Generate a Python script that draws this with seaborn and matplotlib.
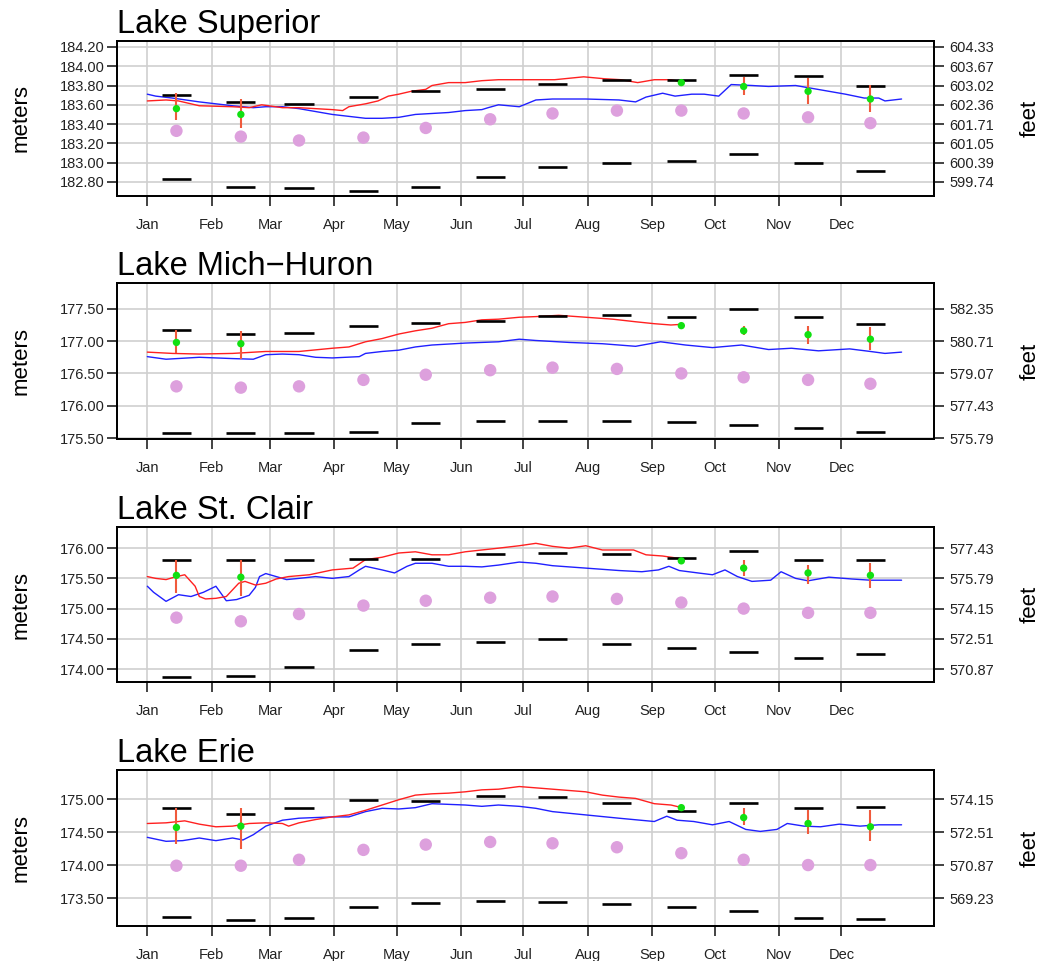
import matplotlib
matplotlib.use("Agg")
import matplotlib.pyplot as plt
import seaborn as sns

# x axis: day of year
month_start = [1, 32, 60, 91, 121, 152, 182, 213, 244, 274, 305, 335]
month_names = ["Jan", "Feb", "Mar", "Apr", "May", "Jun",
               "Jul", "Aug", "Sep", "Oct", "Nov", "Dec"]
mid_month = [15, 46, 74, 105, 135, 166, 196, 227, 258, 288, 319, 349]
fc_days = [15, 46, 258, 288, 319, 349]  # months with forecast points

# ---- Lake Superior ----
sup_red_days = [1, 10, 16, 26, 42, 50, 56, 66, 74, 82, 90, 95, 98, 106, 112, 117, 122, 128,
                135, 138, 146, 154, 162, 170, 180, 197, 211, 221, 229, 237, 245, 253, 258]
sup_red = [183.64, 183.65, 183.64, 183.59, 183.58, 183.57, 183.60, 183.57, 183.57, 183.56,
           183.55, 183.54, 183.58, 183.61, 183.64, 183.69, 183.71, 183.74, 183.76, 183.80,
           183.83, 183.83, 183.85, 183.86, 183.86, 183.86, 183.89, 183.87, 183.86, 183.83,
           183.86, 183.86, 183.84]
sup_blue_days = [1, 5, 13, 26, 42, 52, 58, 66, 74, 82, 90, 98, 106, 114, 122, 130, 138, 146,
                 154, 162, 165, 170, 180, 188, 196, 212, 228, 236, 241, 249, 255, 263, 269,
                 276, 282, 292, 300, 313, 321, 329, 337, 346, 353, 356, 364]
sup_blue = [183.71, 183.69, 183.67, 183.63, 183.59, 183.57, 183.58, 183.58, 183.56, 183.53,
            183.50, 183.48, 183.46, 183.46, 183.47, 183.50, 183.51, 183.52, 183.54, 183.55,
            183.57, 183.60, 183.58, 183.65, 183.66, 183.66, 183.65, 183.63, 183.68, 183.72,
            183.69, 183.71, 183.71, 183.69, 183.81, 183.80, 183.79, 183.80, 183.77, 183.74,
            183.71, 183.67, 183.67, 183.64, 183.66]
sup_mean = [183.33, 183.27, 183.23, 183.26, 183.36, 183.45, 183.51, 183.54, 183.54, 183.51, 183.47, 183.41]
sup_max = [183.70, 183.63, 183.61, 183.68, 183.74, 183.76, 183.82, 183.86, 183.86, 183.91, 183.90, 183.80]
sup_min = [182.83, 182.75, 182.74, 182.71, 182.75, 182.85, 182.96, 183.00, 183.02, 183.09, 183.00, 182.91]
sup_fc = [183.56, 183.50, 183.83, 183.79, 183.74, 183.66]
sup_fc_lo = [183.44, 183.36, 183.81, 183.70, 183.61, 183.53]
sup_fc_hi = [183.72, 183.66, 183.85, 183.89, 183.88, 183.81]
sup_ticks = [182.80, 183.00, 183.20, 183.40, 183.60, 183.80, 184.00, 184.20]
sup_feet = ["599.74", "600.39", "601.05", "601.71", "602.36", "603.02", "603.67", "604.33"]

# ---- Lake Mich-Huron ----
mh_red_days = [1, 13, 26, 42, 58, 74, 90, 98, 106, 114, 122, 130, 138, 146, 154, 162, 170,
               180, 188, 199, 212, 225, 236, 245, 253, 258]
mh_red = [176.83, 176.81, 176.80, 176.81, 176.84, 176.84, 176.89, 176.91, 176.99, 177.04,
          177.11, 177.16, 177.20, 177.27, 177.29, 177.33, 177.34, 177.37, 177.38, 177.40,
          177.37, 177.34, 177.30, 177.27, 177.25, 177.26]
mh_blue_days = [1, 10, 26, 42, 52, 58, 66, 74, 82, 90, 103, 106, 114, 122, 130, 138, 154, 170,
                180, 188, 204, 220, 236, 248, 260, 273, 287, 300, 311, 324, 339, 349, 356, 364]
mh_blue = [176.76, 176.72, 176.75, 176.73, 176.72, 176.79, 176.80, 176.79, 176.75, 176.74,
           176.76, 176.81, 176.84, 176.86, 176.91, 176.94, 176.97, 176.99, 177.03, 177.01,
           176.98, 176.96, 176.92, 176.99, 176.94, 176.90, 176.94, 176.87, 176.89, 176.85,
           176.88, 176.84, 176.81, 176.83]
mh_mean = [176.30, 176.28, 176.30, 176.40, 176.48, 176.55, 176.59, 176.57, 176.50, 176.44, 176.40, 176.34]
mh_max = [177.17, 177.11, 177.13, 177.23, 177.28, 177.31, 177.39, 177.40, 177.38, 177.50, 177.38, 177.27]
mh_min = [175.58, 175.58, 175.58, 175.60, 175.74, 175.76, 175.77, 175.76, 175.75, 175.70, 175.65, 175.60]
mh_fc = [176.98, 176.96, 177.24, 177.16, 177.10, 177.03]
mh_fc_lo = [176.81, 176.73, 177.22, 177.09, 176.96, 176.86]
mh_fc_hi = [177.17, 177.15, 177.26, 177.23, 177.24, 177.22]
mh_ticks = [175.50, 176.00, 176.50, 177.00, 177.50]
mh_feet = ["575.79", "577.43", "579.07", "580.71", "582.35"]

# ---- Lake St. Clair ----
sc_red_days = [1, 5, 10, 14, 19, 24, 26, 29, 34, 39, 42, 45, 48, 53, 58, 63, 69, 79, 90, 100,
               106, 114, 122, 130, 138, 146, 154, 162, 170, 180, 188, 196, 204, 212, 220, 228,
               235, 241, 249, 257]
sc_red = [175.53, 175.50, 175.48, 175.52, 175.56, 175.37, 175.20, 175.16, 175.17, 175.20,
          175.31, 175.42, 175.45, 175.39, 175.42, 175.49, 175.53, 175.56, 175.64, 175.67,
          175.81, 175.85, 175.92, 175.94, 175.89, 175.89, 175.94, 175.97, 176.00, 176.04,
          176.08, 176.03, 176.00, 176.04, 175.97, 175.97, 175.97, 175.89, 175.87, 175.83]
sc_blue_days = [1, 4, 10, 16, 22, 28, 34, 39, 44, 50, 53, 55, 58, 63, 68, 74, 82, 90, 98, 103,
                106, 114, 120, 126, 130, 138, 146, 154, 162, 170, 180, 188, 196, 212, 228, 239,
                247, 252, 257, 266, 273, 279, 285, 292, 301, 306, 313, 319, 329, 340, 349, 364]
sc_blue = [175.37, 175.27, 175.12, 175.23, 175.20, 175.27, 175.37, 175.13, 175.15, 175.22,
           175.35, 175.53, 175.58, 175.53, 175.48, 175.50, 175.53, 175.50, 175.53, 175.64,
           175.70, 175.64, 175.59, 175.70, 175.75, 175.75, 175.70, 175.70, 175.69, 175.72,
           175.77, 175.75, 175.71, 175.67, 175.63, 175.61, 175.64, 175.70, 175.63, 175.59,
           175.56, 175.64, 175.53, 175.45, 175.47, 175.61, 175.50, 175.46, 175.52, 175.49,
           175.47, 175.47]
sc_mean = [174.85, 174.79, 174.91, 175.05, 175.13, 175.18, 175.20, 175.16, 175.10, 175.00, 174.93, 174.93]
sc_max = [175.80, 175.80, 175.80, 175.82, 175.82, 175.91, 175.92, 175.90, 175.83, 175.96, 175.81, 175.80]
sc_min = [173.87, 173.89, 174.04, 174.31, 174.42, 174.45, 174.50, 174.41, 174.34, 174.28, 174.18, 174.25]
sc_fc = [175.55, 175.52, 175.79, 175.67, 175.59, 175.55]
sc_fc_lo = [175.26, 175.21, 175.76, 175.54, 175.41, 175.34]
sc_fc_hi = [175.80, 175.80, 175.84, 175.80, 175.72, 175.75]
sc_ticks = [174.00, 174.50, 175.00, 175.50, 176.00]
sc_feet = ["570.87", "572.51", "574.15", "575.79", "577.43"]

# ---- Lake Erie ----
er_red_days = [1, 10, 19, 26, 34, 42, 50, 58, 66, 69, 74, 82, 90, 98, 106, 114, 122, 130, 138,
               146, 154, 162, 170, 180, 188, 196, 212, 220, 228, 236, 245, 253, 257]
er_red = [174.63, 174.64, 174.67, 174.62, 174.58, 174.59, 174.63, 174.64, 174.63, 174.59,
          174.64, 174.69, 174.73, 174.76, 174.83, 174.91, 174.99, 175.06, 175.08, 175.09,
          175.11, 175.14, 175.15, 175.19, 175.17, 175.15, 175.11, 175.06, 175.03, 175.01,
          174.93, 174.91, 174.88]
er_blue_days = [1, 10, 18, 26, 34, 42, 47, 52, 58, 66, 74, 82, 90, 98, 106, 114, 122, 130, 138,
                146, 154, 162, 170, 180, 188, 196, 212, 228, 245, 251, 256, 264, 273, 281, 289,
                296, 304, 309, 317, 325, 334, 344, 353, 364]
er_blue = [174.42, 174.36, 174.37, 174.41, 174.37, 174.41, 174.38, 174.46, 174.59, 174.68,
           174.71, 174.72, 174.73, 174.73, 174.81, 174.86, 174.85, 174.87, 174.93, 174.92,
           174.91, 174.89, 174.91, 174.89, 174.86, 174.81, 174.76, 174.71, 174.66, 174.74,
           174.68, 174.66, 174.61, 174.66, 174.54, 174.51, 174.54, 174.63, 174.59, 174.58,
           174.62, 174.59, 174.61, 174.61]
er_mean = [173.99, 173.99, 174.08, 174.23, 174.31, 174.35, 174.33, 174.27, 174.18, 174.08, 174.00, 174.00]
er_max = [174.86, 174.77, 174.87, 174.98, 174.97, 175.04, 175.03, 174.94, 174.82, 174.94, 174.86, 174.88]
er_min = [173.21, 173.16, 173.20, 173.37, 173.43, 173.45, 173.44, 173.41, 173.36, 173.30, 173.20, 173.18]
er_fc = [174.57, 174.59, 174.87, 174.72, 174.63, 174.58]
er_fc_lo = [174.32, 174.24, 174.84, 174.61, 174.47, 174.36]
er_fc_hi = [174.86, 174.86, 174.90, 174.86, 174.83, 174.83]
er_ticks = [173.50, 174.00, 174.50, 175.00]
er_feet = ["569.23", "570.87", "572.51", "574.15"]

sns.set_style("white")
plt.rcParams["font.family"] = ["Liberation Sans", "DejaVu Sans"]

fig = plt.figure(figsize=(10.41, 9.61), dpi=100)

# panel boxes in figure fractions: left, bottom, width, height
boxes = [(0.1124, 0.7961, 0.7848, 0.1613),
         (0.1124, 0.5432, 0.7848, 0.1623),
         (0.1124, 0.2903, 0.7848, 0.1613),
         (0.1124, 0.0364, 0.7848, 0.1623)]

panels = [
    ("Lake Superior", (182.655, 184.262), sup_ticks, sup_feet, sup_red_days, sup_red,
     sup_blue_days, sup_blue, sup_mean, sup_max, sup_min, sup_fc, sup_fc_lo, sup_fc_hi),
    ("Lake Mich\u2212Huron", (175.485, 177.90), mh_ticks, mh_feet, mh_red_days, mh_red,
     mh_blue_days, mh_blue, mh_mean, mh_max, mh_min, mh_fc, mh_fc_lo, mh_fc_hi),
    ("Lake St. Clair", (173.785, 176.35), sc_ticks, sc_feet, sc_red_days, sc_red,
     sc_blue_days, sc_blue, sc_mean, sc_max, sc_min, sc_fc, sc_fc_lo, sc_fc_hi),
    ("Lake Erie", (173.076, 175.44), er_ticks, er_feet, er_red_days, er_red,
     er_blue_days, er_blue, er_mean, er_max, er_min, er_fc, er_fc_lo, er_fc_hi),
]

for box, p in zip(boxes, panels):
    (name, ylim, ticks, feet, rd, rv, bd, bv, mean, mx, mn, fc, lo, hi) = p
    ax = fig.add_axes(box)

    sns.lineplot(x=bd, y=bv, ax=ax, color="#2020ff", lw=1.0, estimator=None, zorder=2)
    sns.lineplot(x=rd, y=rv, ax=ax, color="#ff2020", lw=1.0, estimator=None, zorder=2)

    ax.hlines(mx, [d - 7 for d in mid_month], [d + 7 for d in mid_month],
              color="black", lw=1.9, zorder=3)
    ax.hlines(mn, [d - 7 for d in mid_month], [d + 7 for d in mid_month],
              color="black", lw=1.9, zorder=3)
    sns.scatterplot(x=mid_month, y=mean, ax=ax, color="#dda0dd", s=80,
                    edgecolor="none", zorder=3)
    ax.vlines(fc_days, lo, hi, color="#f05a3c", lw=1.5, zorder=4)
    sns.scatterplot(x=fc_days, y=fc, ax=ax, color="#11e011", s=28,
                    edgecolor="none", zorder=5)

    ax.set_xlim(-13.6, 379.6)
    ax.set_ylim(*ylim)
    ax.set_xticks(month_start, month_names)
    ax.set_yticks(ticks, ["%.2f" % t for t in ticks])
    ax.grid(True, color="#cfcfcf", lw=1.2)
    ax.set_axisbelow(True)
    for s in ax.spines.values():
        s.set_color("black")
        s.set_linewidth(1.3)
    ax.tick_params(axis="both", direction="out", length=7, width=1.2, color="#222222",
                   labelcolor="#222222", labelsize=10.5, bottom=True, left=True)
    ax.tick_params(axis="x", pad=9)
    ax.tick_params(axis="y", pad=2)
    ax.set_xlabel("")
    ax.set_ylabel("meters", fontsize=16, color="black")
    ax.yaxis.set_label_coords(-0.104, 0.5)
    ax.set_title(name, loc="left", fontsize=23.5, pad=6, color="black")

    ax2 = ax.twinx()
    ax2.set_ylim(*ylim)
    ax2.set_yticks(ticks, feet)
    ax2.grid(False)
    for s in ax2.spines.values():
        s.set_color("black")
        s.set_linewidth(1.3)
    ax2.tick_params(axis="y", direction="out", length=7, width=1.2, color="#222222",
                    labelcolor="#222222", labelsize=10.5, pad=4, right=True)
    ax2.set_ylabel("feet", fontsize=16, color="black")
    ax2.yaxis.set_label_coords(1.105, 0.5)

fig.savefig("out.png", dpi=100)
